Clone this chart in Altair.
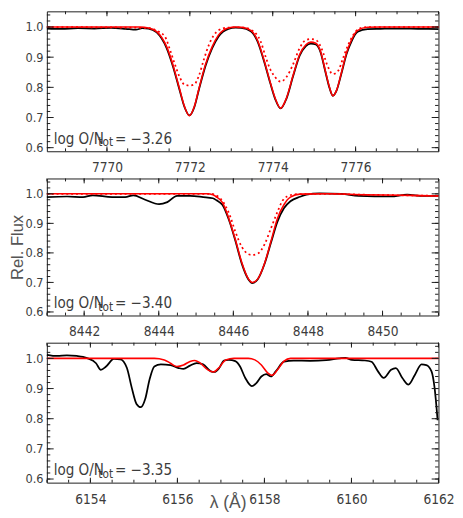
import math
import altair as alt
import numpy as np
import pandas as pd

# ---------------- Panel 1 : O I 7772-7775 ----------------
p1_obs_wl = [7768.55, 7768.9, 7769.3, 7769.7, 7770.1, 7770.45, 7770.7, 7770.85, 7771.0, 7771.2,
             7771.44, 7771.6, 7771.75, 7771.87, 7771.99, 7772.11, 7772.22, 7772.38, 7772.54, 7772.69,
             7772.93, 7773.1, 7773.24, 7773.47, 7773.63, 7773.785, 7773.94, 7774.06, 7774.19, 7774.33,
             7774.49, 7774.65, 7774.80, 7774.92, 7775.04, 7775.155, 7775.27, 7775.37, 7775.45, 7775.54,
             7775.66, 7775.78, 7775.90, 7776.05, 7776.29, 7776.6, 7777.0, 7777.5, 7778.0]
p1_obs_fx = [0.995, 0.994, 0.996, 0.995, 0.997, 0.994, 0.991, 0.996, 0.995, 0.982,
             0.930, 0.866, 0.792, 0.735, 0.707, 0.735, 0.793, 0.872, 0.930, 0.968,
             0.994, 0.998, 0.997, 0.986, 0.953, 0.889, 0.814, 0.761, 0.730, 0.762,
             0.836, 0.905, 0.937, 0.945, 0.942, 0.916, 0.852, 0.798, 0.772, 0.789,
             0.847, 0.910, 0.952, 0.984, 0.993, 0.994, 0.995, 0.994, 0.993]
p1_mod_wl = [7768.55, 7770.8, 7771.0, 7771.2, 7771.44, 7771.6, 7771.75, 7771.87, 7771.99, 7772.11,
             7772.22, 7772.38, 7772.54, 7772.69, 7772.93, 7773.1, 7773.24, 7773.47, 7773.63, 7773.785,
             7773.94, 7774.06, 7774.19, 7774.33, 7774.49, 7774.65, 7774.80, 7774.92, 7775.04, 7775.155,
             7775.27, 7775.37, 7775.45, 7775.54, 7775.66, 7775.78, 7775.90, 7776.05, 7776.29, 7776.6,
             7778.0]
p1_mod_fx = [1.0, 1.0, 0.997, 0.985, 0.935, 0.871, 0.796, 0.737, 0.706, 0.737,
             0.796, 0.877, 0.935, 0.973, 0.997, 1.0, 0.999, 0.989, 0.957, 0.893,
             0.817, 0.764, 0.731, 0.764, 0.839, 0.909, 0.941, 0.950, 0.946, 0.919,
             0.855, 0.800, 0.772, 0.790, 0.850, 0.914, 0.957, 0.989, 0.999, 1.0,
             1.0]
p1_dot_wl = [7768.55, 7771.0, 7771.2, 7771.40, 7771.52, 7771.64, 7771.755, 7771.87, 7771.99, 7772.11,
             7772.22, 7772.34, 7772.46, 7772.58, 7772.69, 7772.9, 7773.25, 7773.47, 7773.59, 7773.71,
             7773.825, 7773.94, 7774.06, 7774.19, 7774.33, 7774.49, 7774.65, 7774.80, 7774.92, 7775.04,
             7775.19, 7775.31, 7775.45, 7775.58, 7775.70, 7775.82, 7775.94, 7776.09, 7776.3, 7778.0]
p1_dot_fx = [1.0, 0.997, 0.988, 0.968, 0.925, 0.876, 0.834, 0.809, 0.806, 0.810,
             0.839, 0.893, 0.941, 0.973, 0.989, 0.998, 0.999, 0.991, 0.979, 0.952,
             0.903, 0.860, 0.834, 0.819, 0.834, 0.876, 0.930, 0.957, 0.960, 0.957,
             0.925, 0.876, 0.844, 0.855, 0.898, 0.941, 0.973, 0.995, 1.0, 1.0]
p1_xdom = [7768.55, 7778.0]
p1_xlabels = [7770, 7772, 7774, 7776]
p1_value = "= \u22123.26"

# ---------------- Panel 2 : O I 8446 ----------------
p2_obs_wl = [8441.0, 8441.54, 8441.97, 8442.23, 8442.75, 8443.10, 8443.32, 8443.62, 8444.01, 8444.23,
             8444.49, 8444.84, 8445.19, 8445.45, 8445.55, 8445.71, 8445.88, 8446.05, 8446.23, 8446.40,
             8446.51, 8446.66, 8446.84, 8447.01, 8447.18, 8447.36, 8447.53, 8447.79, 8447.96, 8448.31,
             8448.9, 8449.36, 8450.22, 8450.66, 8451.09, 8451.5]
p2_obs_fx = [0.989, 0.991, 0.989, 0.995, 0.989, 0.989, 0.995, 0.981, 0.965, 0.972,
             0.993, 0.993, 0.989, 0.985, 0.978, 0.962, 0.912, 0.843, 0.762, 0.711,
             0.698, 0.712, 0.764, 0.835, 0.905, 0.952, 0.975, 0.990, 0.997, 1.002,
             1.0, 0.993, 0.991, 0.997, 0.993, 0.993]
p2_mod_wl = [8441.0, 8445.3, 8445.45, 8445.53, 8445.71, 8445.88, 8446.05, 8446.23, 8446.40, 8446.51,
             8446.66, 8446.84, 8447.01, 8447.18, 8447.36, 8447.53, 8447.79, 8448.5, 8449.5, 8450.5,
             8451.5]
p2_mod_fx = [1.0, 1.0, 0.997, 0.991, 0.970, 0.916, 0.847, 0.766, 0.713, 0.700,
             0.713, 0.766, 0.840, 0.916, 0.964, 0.989, 0.999, 1.0, 0.997, 0.995,
             0.993]
p2_dot_wl = [8441.0, 8445.4, 8445.6, 8445.71, 8445.79, 8445.92, 8446.05, 8446.23, 8446.40, 8446.51,
             8446.66, 8446.84, 8447.01, 8447.18, 8447.31, 8447.44, 8447.7, 8448.5, 8449.5, 8450.5,
             8451.5]
p2_dot_fx = [1.0, 1.0, 0.99, 0.976, 0.959, 0.922, 0.873, 0.820, 0.796, 0.793,
             0.798, 0.830, 0.884, 0.938, 0.975, 0.991, 0.999, 1.0, 0.997, 0.995,
             0.993]
p2_xdom = [8441.0, 8451.5]
p2_xlabels = [8442, 8444, 8446, 8448, 8450]
p2_value = "= \u22123.40"

# ---------------- Panel 3 : O I 6156-6158 ----------------
p3_obs_wl = [6153.0, 6153.24, 6153.46, 6153.69, 6153.83, 6153.94, 6154.13, 6154.24, 6154.36, 6154.54,
             6154.69, 6154.84, 6154.95, 6155.06, 6155.16, 6155.26, 6155.36, 6155.47, 6155.62, 6155.84,
             6156.03, 6156.14, 6156.29, 6156.44, 6156.59, 6156.77, 6156.85, 6156.96, 6157.07, 6157.18,
             6157.33, 6157.44, 6157.56, 6157.71, 6157.82, 6157.93, 6158.04, 6158.15, 6158.26, 6158.45,
             6158.67, 6159.05, 6159.42, 6159.72, 6159.86, 6160.01, 6160.31, 6160.46, 6160.61, 6160.74,
             6160.91, 6161.02, 6161.17, 6161.31, 6161.46, 6161.61, 6161.72, 6161.84, 6161.91, 6161.98]
p3_obs_fx = [1.012, 1.008, 1.010, 1.008, 1.005, 1.000, 0.984, 0.962, 0.973, 0.998,
             0.997, 0.968, 0.903, 0.849, 0.838, 0.865, 0.930, 0.973, 0.980, 0.978,
             0.968, 0.965, 0.976, 0.984, 0.980, 0.957, 0.955, 0.968, 0.993, 0.995,
             0.991, 0.973, 0.935, 0.908, 0.919, 0.940, 0.948, 0.940, 0.957, 0.989,
             0.993, 0.992, 0.994, 1.000, 1.002, 0.995, 0.993, 0.989, 0.957, 0.935,
             0.962, 0.968, 0.935, 0.913, 0.946, 0.980, 0.978, 0.957, 0.903, 0.795]
p3_mod_wl = [6153.0, 6155.47, 6155.70, 6155.84, 6155.99, 6156.14, 6156.29, 6156.40, 6156.51, 6156.70,
             6156.83, 6156.96, 6157.11, 6157.30, 6157.63, 6157.78, 6157.93, 6158.08, 6158.17, 6158.30,
             6158.45, 6158.60, 6162.0]
p3_mod_fx = [1.0, 1.0, 0.995, 0.984, 0.973, 0.978, 0.990, 0.993, 0.986, 0.962,
             0.955, 0.970, 0.995, 1.0, 1.0, 0.995, 0.978, 0.951, 0.944, 0.962,
             0.991, 1.0, 1.0]
p3_xdom = [6153.0, 6162.0]
p3_xlabels = [6154, 6156, 6158, 6160, 6162]
p3_value = "= \u22123.35"

# ---------------- shared axes ----------------
y_dom = [0.588, 1.052]
y_labels = [0.6, 0.7, 0.8, 0.9, 1.0]
y_minor = [0.60, 0.62, 0.64, 0.66, 0.68, 0.70, 0.72, 0.74, 0.76, 0.78, 0.80, 0.82,
           0.84, 0.86, 0.88, 0.90, 0.92, 0.94, 0.96, 0.98, 1.00, 1.02, 1.04]
ylab_text = "Rel. Flux"
xlab_text = "\u03bb (\u00c5)"
ann_pre = "log O/N"
ann_sub = "tot"

FRAME = "#1a1a1a"
LBL = "#3c3c3c"
TTL = "#555555"
NARROW = "Liberation Sans Narrow, DejaVu Sans Condensed, Liberation Sans, sans-serif"
W = 403


def minor_ticks(dom):
    start = math.ceil(dom[0] * 2) / 2
    return list(np.arange(start, dom[1] + 1e-9, 0.5))


def panel(obs_wl, obs_fx, mod_wl, mod_fx, dot_wl, dot_fx, xdom, xlabels, value, H,
          ytitle=False, xtitle=False):
    xs = alt.Scale(domain=xdom, nice=False, zero=False)
    ys = alt.Scale(domain=y_dom, nice=False, zero=False)

    xkw = dict(values=xlabels, format="d", ticks=False, tickSize=0, domain=False, grid=False,
               labelPadding=10, labelFontSize=14, labelFont=NARROW, labelColor=LBL,
               labelFlush=False, labelOverlap=False)
    if xtitle:
        xkw.update(title=xlab_text, titleFontSize=18, titleFont="Liberation Sans",
                   titleFontWeight="normal", titleColor=TTL, titleX=186, titleY=12,
                   titleBaseline="top")
    else:
        xkw.update(title=None)
    ykw = dict(values=y_labels, format=".1f", ticks=False, tickSize=0, domain=False, grid=False,
               labelPadding=4, labelFontSize=13, labelFont=NARROW, labelColor=LBL)
    if ytitle:
        ykw.update(title=ylab_text, titleFontSize=17, titleFont="Liberation Sans",
                   titleFontWeight="normal", titleColor=TTL, titleX=-21,
                   titleBaseline="bottom", titleAngle=270)
    else:
        ykw.update(title=None)
    xaxis = alt.Axis(**xkw)
    yaxis = alt.Axis(**ykw)

    obs = pd.DataFrame({"wl": obs_wl, "flux": obs_fx})
    mod = pd.DataFrame({"wl": mod_wl, "flux": mod_fx})

    def xenc(f):
        return alt.X(f, scale=xs, axis=xaxis)

    def yenc(f):
        return alt.Y(f, scale=ys, axis=yaxis)

    layers = [
        alt.Chart(obs).mark_line(color="black", strokeWidth=1.8, interpolate="monotone").encode(
            x=xenc("wl:Q"), y=yenc("flux:Q"))
    ]
    if dot_wl is not None:
        dot = pd.DataFrame({"wl": dot_wl, "flux": dot_fx})
        layers.append(
            alt.Chart(dot).mark_line(color="#ff0000", strokeWidth=1.8, strokeDash=[2, 3],
                                     interpolate="monotone").encode(
                x=xenc("wl:Q"), y=yenc("flux:Q"))
        )
    layers.append(
        alt.Chart(mod).mark_line(color="#ff0000", strokeWidth=1.6, interpolate="monotone").encode(
            x=xenc("wl:Q"), y=yenc("flux:Q"))
    )

    # frame ticks (inward), IDL style
    xmaj = pd.DataFrame({"v": [v for v in xlabels if xdom[0] <= v <= xdom[1]]})
    xmin = pd.DataFrame({"v": minor_ticks(xdom)})
    ymaj = pd.DataFrame({"v": y_labels})
    ymin = pd.DataFrame({"v": y_minor})
    for df, L in [(xmaj, 5), (xmin, 3)]:
        base = alt.Chart(df).mark_rule(color=FRAME, strokeWidth=1)
        layers.append(base.encode(x=xenc("v:Q"), y=alt.value(0), y2=alt.value(L)))
        layers.append(base.encode(x=xenc("v:Q"), y=alt.value(H), y2=alt.value(H - L)))
    for df, L in [(ymaj, 7), (ymin, 3.5)]:
        base = alt.Chart(df).mark_rule(color=FRAME, strokeWidth=1)
        layers.append(base.encode(y=yenc("v:Q"), x=alt.value(0), x2=alt.value(L)))
        layers.append(base.encode(y=yenc("v:Q"), x=alt.value(W), x2=alt.value(W - L)))

    # annotation  log O/N_tot = value
    yb = H - 8
    for txt, xp, dy, fs in [(ann_pre, 7, 0, 15.5), (ann_sub, 53, 3, 12), (value, 70, 0, 15.5)]:
        layers.append(
            alt.Chart(pd.DataFrame({"t": [txt]})).mark_text(
                align="left", baseline="alphabetic", font=NARROW, fontSize=fs, color=LBL
            ).encode(x=alt.value(xp), y=alt.value(yb + dy), text="t:N")
        )

    return alt.layer(*layers).properties(width=W, height=H)


H1, H2, H3 = 144, 141, 144
c1 = panel(p1_obs_wl, p1_obs_fx, p1_mod_wl, p1_mod_fx, p1_dot_wl, p1_dot_fx,
           p1_xdom, p1_xlabels, p1_value, H1)
c2 = panel(p2_obs_wl, p2_obs_fx, p2_mod_wl, p2_mod_fx, p2_dot_wl, p2_dot_fx,
           p2_xdom, p2_xlabels, p2_value, H2, ytitle=True)
c3 = panel(p3_obs_wl, p3_obs_fx, p3_mod_wl, p3_mod_fx, None, None,
           p3_xdom, p3_xlabels, p3_value, H3, xtitle=True)

chart = alt.vconcat(c1, c2, c3, spacing=2).properties(
    padding={"left": 0, "top": -5, "right": 0, "bottom": 0}, background="white"
).configure_view(stroke=FRAME, strokeWidth=1)

chart.save("out.html", embed_options={"renderer": "svg", "actions": False})
